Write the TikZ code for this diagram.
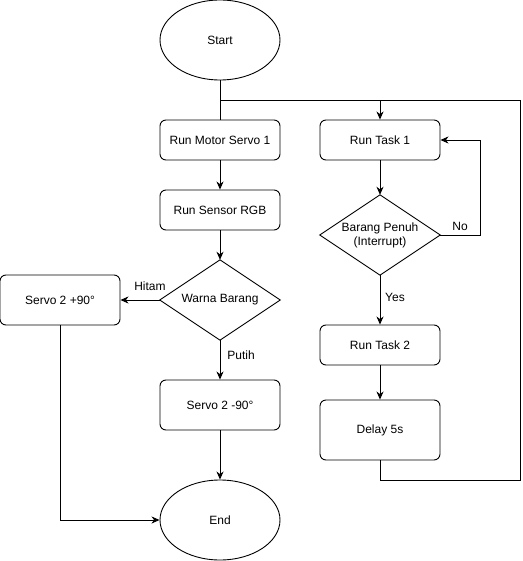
\documentclass[tikz,border=0pt]{standalone}
\usepackage{fontspec}
\setmainfont{Liberation Sans}
\usetikzlibrary{shapes.geometric,arrows.meta}
\begin{document}
\begin{tikzpicture}[x=1pt,y=-1pt,
  every node/.style={font=\fontsize{12}{14}\selectfont, inner sep=0pt},
  line/.style={draw=black, line width=0.9pt},
  arr/.style={line, -{Stealth[length=8pt,width=7pt,inset=2.5pt]}},
  proc/.style={draw, line width=0.9pt, rounded corners=6pt, minimum width=120pt, align=center},
  term/.style={draw, line width=0.9pt, ellipse, minimum width=120pt, minimum height=80pt},
  dec/.style={rectangle, minimum width=120pt, minimum height=80pt, align=center},
  lbl/.style={fill=white, inner sep=1pt}]
\useasboundingbox (0,0) rectangle (522,561);
% terminals
\node[term] (start) at (220,40) {Start};
\node[term] (end) at (220,520) {End};
% left column
\node[proc, minimum height=40pt] (rms) at (220,140) {Run Motor Servo 1};
\node[proc, minimum height=40pt] (rgb) at (220,210) {Run Sensor RGB};
\node[dec] (warna) at (220,300) {Warna Barang};
\draw[line] (warna.north) -- (warna.east) -- (warna.south) -- (warna.west) -- cycle;
\node[proc, minimum height=50pt] (sp) at (60,300) {Servo 2 +90°};
\node[proc, minimum height=50pt] (sm) at (220,405) {Servo 2 -90°};
% right column
\node[proc, minimum height=40pt] (t1) at (380,140) {Run Task 1};
\node[dec] (penuh) at (380,235) {Barang Penuh\\(Interrupt)};
\draw[line] (penuh.north) -- (penuh.east) -- (penuh.south) -- (penuh.west) -- cycle;
\node[proc, minimum height=40pt] (t2) at (380,345) {Run Task 2};
\node[proc, minimum height=60pt] (delay) at (380,430) {Delay 5s};
% helper coordinates
\coordinate (j1) at (220,100);
\coordinate (j2) at (380,100);
\coordinate (c1) at (380,480);
\coordinate (c2) at (520,480);
\coordinate (c3) at (520,100);
\coordinate (n1) at (480,235);
\coordinate (n2) at (480,140);
\coordinate (h1) at (60,520);
% connectors
\draw[line] (start.south) -- (rms.north);
\draw[arr] (j1) -- (j2) -- (t1.north);
\draw[arr] (rms.south) -- (rgb.north);
\draw[arr] (rgb.south) -- (warna.north);
\draw[arr] (warna.west) -- (sp.east);
\node[lbl] at (150,286) {Hitam};
\draw[arr] (warna.south) -- (sm.north);
\node[lbl] at (241,355) {Putih};
\draw[arr] (sm.south) -- (end.north);
\draw[arr] (sp.south) -- (h1) -- (end.west);
\draw[arr] (t1.south) -- (penuh.north);
\draw[arr] (penuh.east) -- (n1) -- (n2) -- (t1.east);
\node[lbl] at (460,226) {No};
\draw[arr] (penuh.south) -- (t2.north);
\node[lbl] at (395,297) {Yes};
\draw[arr] (t2.south) -- (delay.north);
\draw[line] (delay.south) -- (c1) -- (c2) -- (c3) -- (j2);
\end{tikzpicture}
\end{document}
